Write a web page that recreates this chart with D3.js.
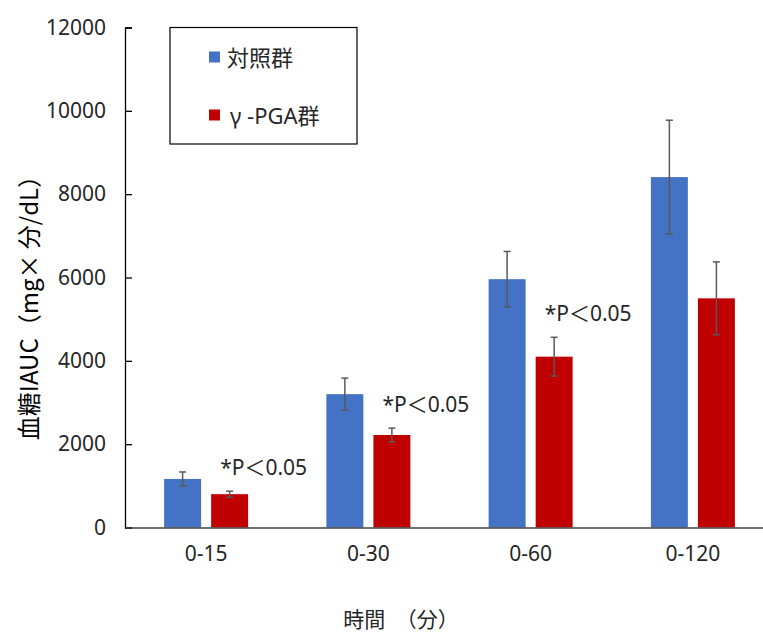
<!DOCTYPE html>
<html><head><meta charset="utf-8">
<script src="https://cdn.jsdelivr.net/npm/d3@7"></script>
<style>
html,body{margin:0;padding:0;background:#fff;}
svg{display:block;font-family:"Noto Sans","Noto Sans CJK JP",sans-serif;}
</style></head>
<body>
<script>
const categories = ["0-15", "0-30", "0-60", "0-120"];
const seriesNames = ["対照群", "γ -PGA群"];
const controlValues = [1165, 3200, 5960, 8410];
const controlErrors = [168, 385, 665, 1365];
const pgaValues = [800, 2220, 4100, 5500];
const pgaErrors = [72, 165, 465, 875];
const annotations = ["*P＜0.05", "*P＜0.05", "*P＜0.05", ""];
const yTicks = [0, 2000, 4000, 6000, 8000, 10000, 12000];
const colors = ["#4472C4", "#C00000"];
const yTitle = "血糖IAUC（mg× 分/dL）";
const xTitle = "時間　（分）";

const W = 763, H = 635;
const FONT = '"Noto Sans","Noto Sans CJK JP",sans-serif';
const CJK = '"Noto Sans CJK JP","Noto Sans",sans-serif';
const svg = d3.select("body").append("svg").attr("width", W).attr("height", H);

const x0 = d3.scaleBand().domain(categories).range([125, 774]).paddingInner(0).paddingOuter(0);
const bw = x0.bandwidth();
const x1 = d3.scaleBand().domain([0, 1]).range([bw / 2 - 42, bw / 2 + 42]).paddingInner(0.214);
const y = d3.scaleLinear().domain([0, 12000]).range([527.5, 27.5]);

const series = [controlValues, pgaValues];
const errs = [controlErrors, pgaErrors];
const data = [];
categories.forEach((c, i) => {
  series.forEach((s, k) => data.push({cat: c, k, v: s[i], e: errs[k][i]}));
});

// bars
svg.append("g").selectAll("rect").data(data).join("rect")
  .attr("x", d => x0(d.cat) + x1(d.k))
  .attr("y", d => y(d.v))
  .attr("width", x1.bandwidth())
  .attr("height", d => y(0) - y(d.v))
  .attr("fill", d => colors[d.k]);

// error bars
const eg = svg.append("g").attr("stroke", "#595959").attr("stroke-width", 1.5);
data.forEach(d => {
  const cx = x0(d.cat) + x1(d.k) + x1.bandwidth() / 2;
  eg.append("line").attr("x1", cx).attr("x2", cx).attr("y1", y(d.v + d.e)).attr("y2", y(d.v - d.e));
  eg.append("line").attr("x1", cx - 3.5).attr("x2", cx + 3.5).attr("y1", y(d.v + d.e)).attr("y2", y(d.v + d.e));
  eg.append("line").attr("x1", cx - 3.5).attr("x2", cx + 3.5).attr("y1", y(d.v - d.e)).attr("y2", y(d.v - d.e));
});

// y axis
const yAxis = svg.append("g").attr("transform", "translate(125,0)")
  .call(d3.axisLeft(y).tickValues(yTicks).tickSize(-7).tickPadding(19).tickFormat(d3.format("d")));
yAxis.select(".domain").attr("stroke", "#000").attr("stroke-width", 1.3);
yAxis.selectAll(".tick line").attr("stroke", "#000").attr("stroke-width", 1.3);
yAxis.selectAll("text").attr("font-size", 21).attr("fill", "#262626").attr("font-family", FONT);

// x axis
const xAxis = svg.append("g").attr("transform", "translate(0,527.5)")
  .call(d3.axisBottom(x0).tickSize(0).tickPadding(19));
xAxis.select(".domain").attr("stroke", "#404040").attr("stroke-width", 1.5);
xAxis.selectAll("text").attr("font-size", 21).attr("fill", "#262626").attr("font-family", FONT);

// annotations
svg.append("g").selectAll("text").data(categories.map((c, i) => ({c, t: annotations[i], top: pgaValues[i] + pgaErrors[i]})).filter(d => d.t))
  .join("text")
  .attr("x", d => x0(d.c) + x1(1) + 9)
  .attr("y", d => y(d.top) - 16)
  .attr("font-size", 21).attr("fill", "#262626")
  .text(d => d.t);

// legend
const lg = svg.append("g");
lg.append("rect").attr("x", 170).attr("y", 27.5).attr("width", 187).attr("height", 116.5)
  .attr("fill", "#fff").attr("stroke", "#000").attr("stroke-width", 1.2);
seriesNames.forEach((n, k) => {
  const cy = 57 + k * 58;
  lg.append("rect").attr("x", 209).attr("y", cy - 5.5).attr("width", 11).attr("height", 11).attr("fill", colors[k]);
  lg.append("text").attr("x", k === 0 ? 227 : 230).attr("y", cy).attr("dominant-baseline", "central")
    .attr("font-size", 22).attr("fill", "#262626").text(n);
});

// axis titles
svg.append("text").attr("transform", "translate(27,302) rotate(-90)")
  .attr("text-anchor", "middle").attr("dominant-baseline", "central")
  .attr("font-family", CJK)
  .attr("font-size", 24).attr("fill", "#000").text(yTitle);
svg.append("text").attr("x", 401).attr("y", 627).attr("text-anchor", "middle")
  .attr("font-family", CJK)
  .attr("font-size", 21).attr("fill", "#262626").text(xTitle);
</script>
</body></html>
